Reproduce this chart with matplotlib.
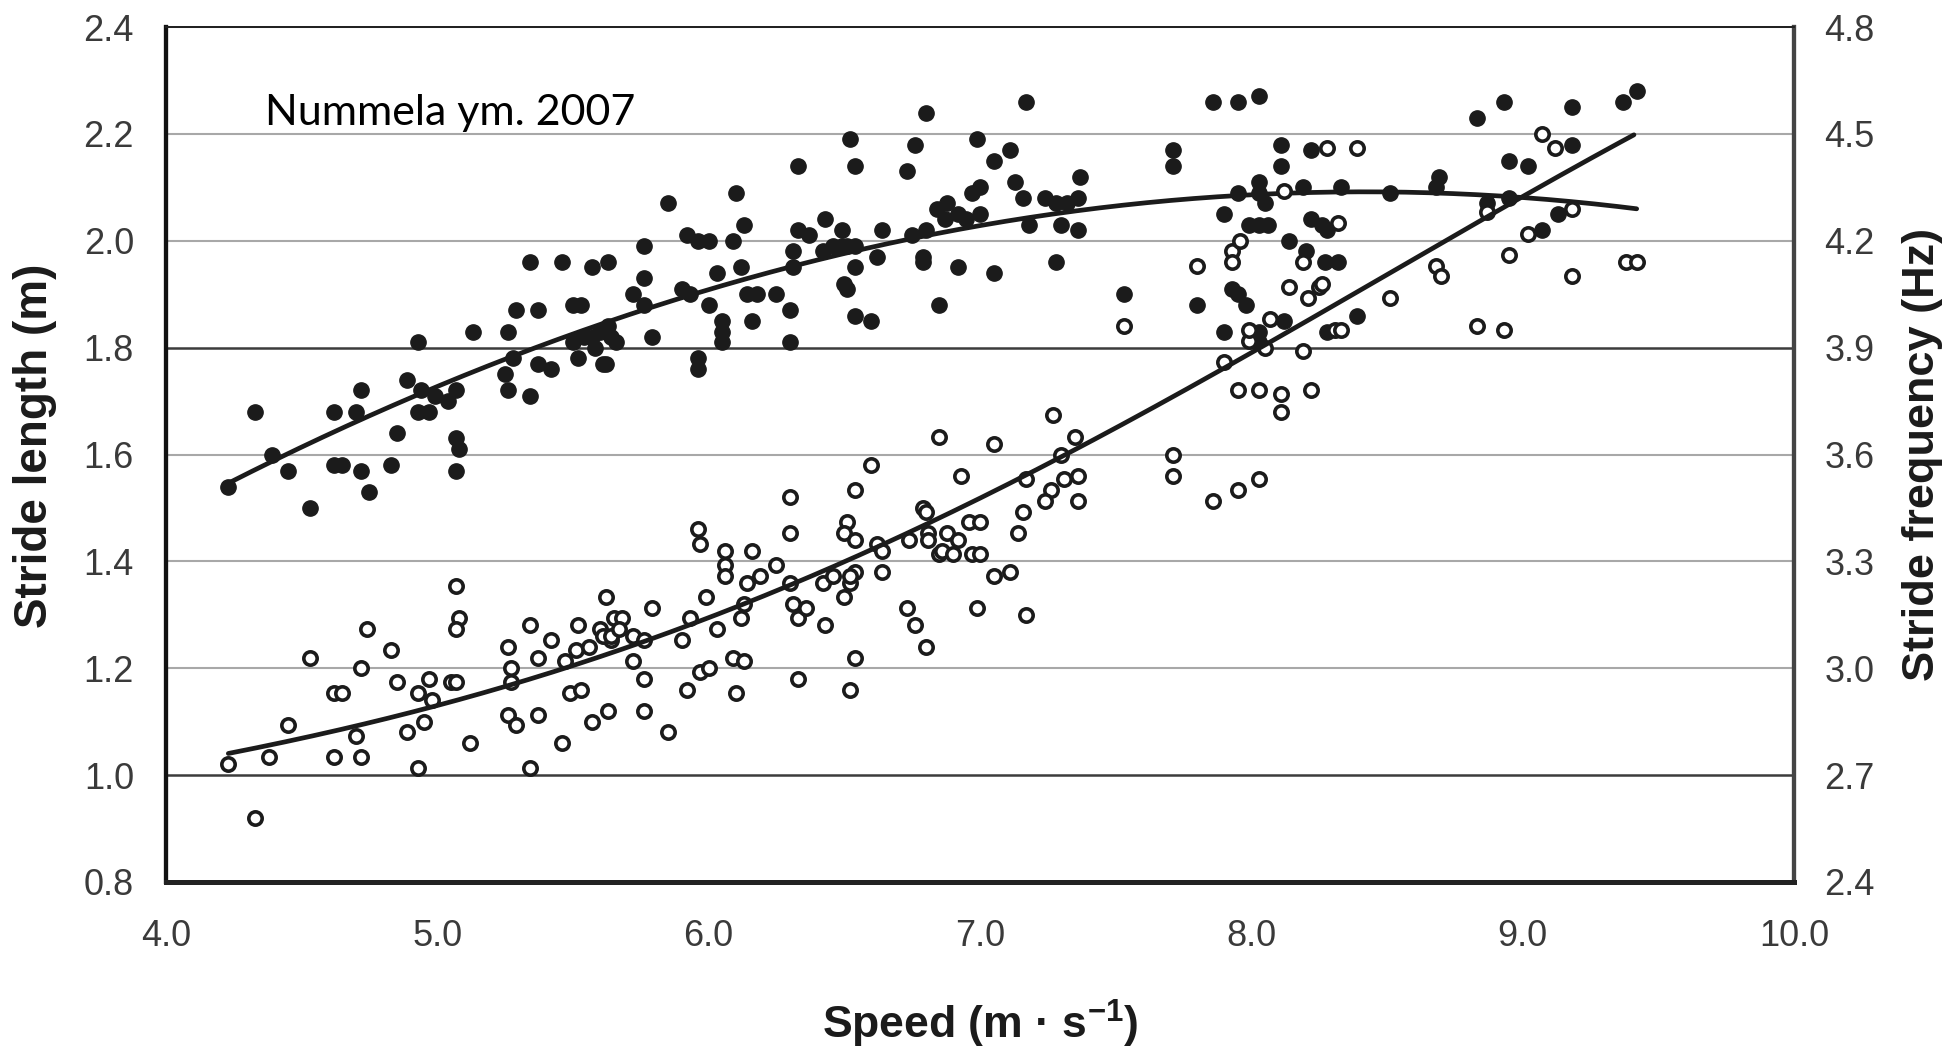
import numpy as np
import matplotlib
matplotlib.use("Agg")
import matplotlib.pyplot as plt
from matplotlib.ticker import FormatStrFormatter

plt.rcParams["font.family"] = ["Liberation Sans", "DejaVu Sans"]
plt.rcParams["mathtext.default"] = "regular"

# Stride length (m) per trial, against running speed (m/s) -- filled markers
length_speed = [
    4.23, 4.33, 4.39, 4.45, 4.53, 4.62, 4.65, 4.62, 4.70, 4.72, 4.72, 4.75, 4.83, 4.85,
    4.89, 4.93, 4.93, 4.97, 4.99, 4.94, 5.04, 5.07, 5.07, 5.08, 5.07, 5.13, 5.26, 5.29,
    5.28, 5.25, 5.26, 5.34, 5.37, 5.34, 5.37, 5.42, 5.46, 5.50, 5.53, 5.52, 5.57, 5.63,
    5.61, 5.50, 5.54, 5.57, 5.60, 5.63, 5.58,
    5.64, 5.66, 5.62, 5.72, 5.76, 5.76, 5.76, 5.79, 5.85, 5.90, 5.93, 5.92, 5.96, 6.00,
    6.00, 5.96, 5.96, 6.03, 6.05, 6.05, 6.05, 6.09, 6.10, 6.12, 6.13, 6.14, 6.18, 6.16,
    6.25, 6.30, 6.30, 6.31, 6.31, 6.33, 6.33, 6.37, 6.43, 6.42, 6.46, 6.49, 6.51, 6.54,
    6.49, 6.52, 6.54, 6.54, 6.50, 6.51, 6.54, 6.60, 6.64, 6.62, 6.73, 6.76, 6.80, 6.75,
    6.80, 6.79, 6.79, 6.84, 6.88, 6.87, 6.92, 6.95, 6.85, 6.92, 6.99, 6.97, 7.00, 7.00,
    7.05, 7.05,
    7.17, 7.11, 7.13, 7.16, 7.18, 7.24, 7.28, 7.32, 7.36, 7.37, 7.30, 7.36, 7.28, 7.53,
    7.71, 7.71, 7.86, 7.95, 8.03, 7.80, 7.90, 7.90, 7.93, 7.95, 7.98, 7.95, 7.99, 8.03,
    8.06, 8.03, 8.03, 8.05, 8.11, 8.11, 8.22, 8.19, 8.14, 8.20, 8.12, 8.03, 8.03, 8.22,
    8.26, 8.28, 8.27, 8.32, 8.33, 8.51, 8.28, 8.39,
    8.69, 8.68, 8.83, 8.93, 8.95, 9.02, 8.87, 8.95, 9.18, 9.18, 9.13, 9.07, 9.37, 9.42,
]
length_m = [
    1.54, 1.68, 1.60, 1.57, 1.50, 1.58, 1.58, 1.68, 1.68, 1.72, 1.57, 1.53, 1.58, 1.64,
    1.74, 1.81, 1.68, 1.68, 1.71, 1.72, 1.70, 1.72, 1.63, 1.61, 1.57, 1.83, 1.83, 1.87,
    1.78, 1.75, 1.72, 1.71, 1.87, 1.96, 1.77, 1.76, 1.96, 1.88, 1.88, 1.78, 1.95, 1.96,
    1.77, 1.81, 1.82, 1.82, 1.83, 1.84, 1.80,
    1.82, 1.81, 1.77, 1.90, 1.88, 1.99, 1.93, 1.82, 2.07, 1.91, 1.90, 2.01, 2.00, 2.00,
    1.88, 1.78, 1.76, 1.94, 1.85, 1.83, 1.81, 2.00, 2.09, 1.95, 2.03, 1.90, 1.90, 1.85,
    1.90, 1.81, 1.87, 1.98, 1.95, 2.14, 2.02, 2.01, 2.04, 1.98, 1.99, 1.99, 1.99, 1.99,
    2.02, 2.19, 2.14, 1.95, 1.92, 1.91, 1.86, 1.85, 2.02, 1.97, 2.13, 2.18, 2.24, 2.01,
    2.02, 1.97, 1.96, 2.06, 2.07, 2.04, 2.05, 2.04, 1.88, 1.95, 2.19, 2.09, 2.10, 2.05,
    2.15, 1.94,
    2.26, 2.17, 2.11, 2.08, 2.03, 2.08, 2.07, 2.07, 2.08, 2.12, 2.03, 2.02, 1.96, 1.90,
    2.17, 2.14, 2.26, 2.26, 2.27, 1.88, 2.05, 1.83, 1.91, 1.90, 1.88, 2.09, 2.03, 2.03,
    2.03, 2.11, 2.09, 2.07, 2.18, 2.14, 2.17, 2.10, 2.00, 1.98, 1.85, 1.83, 1.81, 2.04,
    2.03, 2.02, 1.96, 1.96, 2.10, 2.09, 1.83, 1.86,
    2.12, 2.10, 2.23, 2.26, 2.15, 2.14, 2.07, 2.08, 2.25, 2.18, 2.05, 2.02, 2.26, 2.28,
]

# Stride frequency (Hz) per trial, against running speed (m/s) -- open markers
freq_speed = [
    4.23, 4.38, 4.45, 4.33, 4.53, 4.62, 4.65, 4.62, 4.72, 4.70, 4.72, 4.74, 4.83, 4.85,
    4.89, 4.93, 4.93, 4.97, 4.98, 4.95, 5.05, 5.07, 5.07, 5.08, 5.07, 5.12, 5.26, 5.27,
    5.27, 5.26, 5.29, 5.34, 5.34, 5.37, 5.37, 5.42, 5.46, 5.47, 5.49, 5.53, 5.51, 5.52,
    5.57, 5.63, 5.56, 5.62, 5.60, 5.64,
    5.65, 5.68, 5.61, 5.64, 5.67, 5.72, 5.76, 5.72, 5.76, 5.76, 5.79, 5.85, 5.90, 5.92,
    5.93, 5.97, 6.00, 5.96, 5.97, 5.99, 6.03, 6.06, 6.06, 6.06, 6.09, 6.13, 6.10, 6.12,
    6.14, 6.19, 6.13, 6.16, 6.25, 6.30, 6.30, 6.30, 6.31, 6.33, 6.36, 6.33, 6.42, 6.43,
    6.46, 6.50, 6.51, 6.50, 6.54, 6.52, 6.54, 6.52, 6.54, 6.52, 6.54, 6.60, 6.62, 6.64,
    6.64, 6.73, 6.76, 6.80, 6.74, 6.79, 6.80, 6.81, 6.81, 6.85, 6.86, 6.88, 6.90, 6.92,
    6.93, 6.96, 6.97, 7.00, 7.00, 6.99, 7.05, 6.85, 7.05,
    7.27, 7.35, 7.30, 7.31, 7.36, 7.26, 7.24, 7.36, 7.17, 7.16, 7.14, 7.11, 7.17, 7.53,
    7.71, 7.71, 7.86, 7.95, 8.03, 7.80, 7.90, 7.93, 7.93, 7.96, 7.95, 8.03, 7.99, 7.99,
    8.05, 8.07, 8.11, 8.11, 8.12, 8.14, 8.19, 8.19, 8.22, 8.21, 8.25, 8.26, 8.28, 8.32,
    8.31, 8.33, 8.39, 8.51,
    9.07, 9.12, 9.18, 9.02, 8.95, 8.87, 8.68, 8.70, 8.83, 8.93, 9.18, 9.38, 9.42,
]
freq_hz = [
    2.73, 2.75, 2.84, 2.58, 3.03, 2.93, 2.93, 2.75, 2.75, 2.81, 3.00, 3.11, 3.05, 2.96,
    2.82, 2.72, 2.93, 2.97, 2.91, 2.85, 2.96, 2.96, 3.23, 3.14, 3.11, 2.79, 3.06, 3.00,
    2.96, 2.87, 2.84, 2.72, 3.12, 3.03, 2.87, 3.08, 2.79, 3.02, 2.93, 2.94, 3.05, 3.12,
    2.85, 2.88, 3.06, 3.20, 3.11, 3.08,
    3.14, 3.14, 3.09, 3.09, 3.11, 3.09, 3.08, 3.02, 2.97, 2.88, 3.17, 2.82, 3.08, 2.94,
    3.14, 2.99, 3.00, 3.39, 3.35, 3.20, 3.11, 3.33, 3.29, 3.26, 3.03, 3.02, 2.93, 3.14,
    3.24, 3.26, 3.18, 3.33, 3.29, 3.48, 3.38, 3.24, 3.18, 3.14, 3.17, 2.97, 3.24, 3.12,
    3.26, 3.20, 3.41, 3.38, 3.36, 3.24, 3.27, 3.26, 3.03, 2.94, 3.50, 3.57, 3.35, 3.33,
    3.27, 3.17, 3.12, 3.06, 3.36, 3.45, 3.44, 3.38, 3.36, 3.32, 3.33, 3.38, 3.32, 3.36,
    3.54, 3.41, 3.32, 3.32, 3.41, 3.17, 3.26, 3.65, 3.63,
    3.71, 3.65, 3.60, 3.53, 3.54, 3.50, 3.47, 3.47, 3.53, 3.44, 3.38, 3.27, 3.15, 3.96,
    3.60, 3.54, 3.47, 3.50, 3.53, 4.13, 3.86, 4.17, 4.14, 4.20, 3.78, 3.78, 3.92, 3.95,
    3.90, 3.98, 3.77, 3.72, 4.34, 4.07, 3.89, 4.14, 3.78, 4.04, 4.07, 4.08, 4.46, 4.25,
    3.95, 3.95, 4.46, 4.04,
    4.50, 4.46, 4.29, 4.22, 4.16, 4.28, 4.13, 4.10, 3.96, 3.95, 4.10, 4.14, 4.14,
]

# Values
length_trend_speed = [4.23, 4.91, 5.65, 5.97, 6.34, 7.15, 7.45, 7.82, 8.31, 8.63, 9.05, 9.42]
length_trend_m = [1.55, 1.70, 1.85, 1.91, 1.96, 2.04, 2.06, 2.08, 2.09, 2.09, 2.08, 2.06]
freq_trend_speed = [4.23, 4.45, 4.70, 4.99, 5.27, 5.48, 5.93, 6.30, 6.62, 6.83, 7.15,
                    7.45, 7.82, 8.18, 8.63, 8.92, 9.17, 9.41]
freq_trend_hz = [2.76, 2.79, 2.84, 2.90, 2.95, 3.01, 3.13, 3.23, 3.33, 3.39, 3.52,
                 3.68, 3.83, 3.98, 4.15, 4.27, 4.38, 4.52]

speed_ticks = [4.0, 5.0, 6.0, 7.0, 8.0, 9.0, 10.0]
length_ticks = [0.8, 1.0, 1.2, 1.4, 1.6, 1.8, 2.0, 2.2, 2.4]
freq_ticks = [2.4, 2.7, 3.0, 3.3, 3.6, 3.9, 4.2, 4.5, 4.8]
dark_grid_levels = [1.0, 1.8]

INK = "#1b1b1b"
TICK_GREY = "#3a3a3a"

fig = plt.figure(figsize=(19.59, 10.47), dpi=100)
ax = fig.add_axes([0.0847, 0.1576, 0.8311, 0.8166])
ax2 = ax.twinx()

ax.set_xlim(speed_ticks[0], speed_ticks[-1])
ax.set_ylim(length_ticks[0], length_ticks[-1])
ax2.set_ylim(freq_ticks[0], freq_ticks[-1])

# horizontal grid, two of the levels drawn darker
ax.set_yticks(length_ticks)
ax.grid(axis="y", color="#a8a8a8", linewidth=1.5, zorder=0)
ax.set_axisbelow(True)
for level, line in zip(length_ticks, ax.yaxis.get_gridlines()):
    if any(abs(level - d) < 1e-9 for d in dark_grid_levels):
        line.set_color("#3c3c3c")
        line.set_linewidth(1.8)

# scatter of the trials
ax.plot(length_speed, length_m, "o", ms=11, color=INK, mec=INK, zorder=3)
ax2.plot(freq_speed, freq_hz, "o", ms=9.6, mfc="white", mec=INK, mew=2.6, zorder=3)

# smooth polynomial trend curves through the read curve values
xs = np.linspace(min(length_trend_speed), max(length_trend_speed), 300)
ax.plot(xs, np.polyval(np.polyfit(length_trend_speed, length_trend_m, 3), xs),
        color=INK, lw=3.4, zorder=4, solid_capstyle="round")
xs = np.linspace(min(freq_trend_speed), max(freq_trend_speed), 300)
ax2.plot(xs, np.polyval(np.polyfit(freq_trend_speed, freq_trend_hz, 4), xs),
         color=INK, lw=3.4, zorder=4, solid_capstyle="round")

# ticks
ax.set_xticks(speed_ticks)
ax2.set_yticks(freq_ticks)
ax.xaxis.set_major_formatter(FormatStrFormatter("%.1f"))
ax.yaxis.set_major_formatter(FormatStrFormatter("%.1f"))
ax2.yaxis.set_major_formatter(FormatStrFormatter("%.1f"))
ax.tick_params(axis="x", length=0, pad=27, labelsize=26, labelcolor=TICK_GREY)
ax.tick_params(axis="y", length=0, pad=23, labelsize=26, labelcolor=TICK_GREY)
ax2.tick_params(axis="y", length=0, pad=22, labelsize=26, labelcolor=TICK_GREY)

# frame
for a in (ax, ax2):
    a.spines["left"].set_linewidth(3.0)
    a.spines["left"].set_color("#111111")
    a.spines["bottom"].set_linewidth(3.6)
    a.spines["bottom"].set_color("#222222")
    a.spines["top"].set_linewidth(1.4)
    a.spines["top"].set_color("#222222")
    a.spines["right"].set_linewidth(3.0)
    a.spines["right"].set_color("#444444")

# axis titles
ax.set_xlabel("Speed (m · s$^{-1}$)", fontsize=32, fontweight="bold", color=INK, va="center")
ax.xaxis.set_label_coords(0.5, -0.166)
ax.set_ylabel("Stride length (m)", fontsize=33, fontweight="bold", color=INK, va="center")
ax.yaxis.set_label_coords(-0.0805, 0.51)
ax2.set_ylabel("Stride frequency (Hz)", fontsize=32.5, fontweight="bold", color=INK,
               va="center", rotation=90)
ax2.yaxis.set_label_coords(1.079, 0.5)

ax.text(4.365, 2.217, "Nummela ym. 2007", fontsize=31, family=["Lato", "DejaVu Sans"],
        color="black", ha="left", va="baseline", zorder=5)

fig.savefig("out.png", dpi=100, facecolor="white")
